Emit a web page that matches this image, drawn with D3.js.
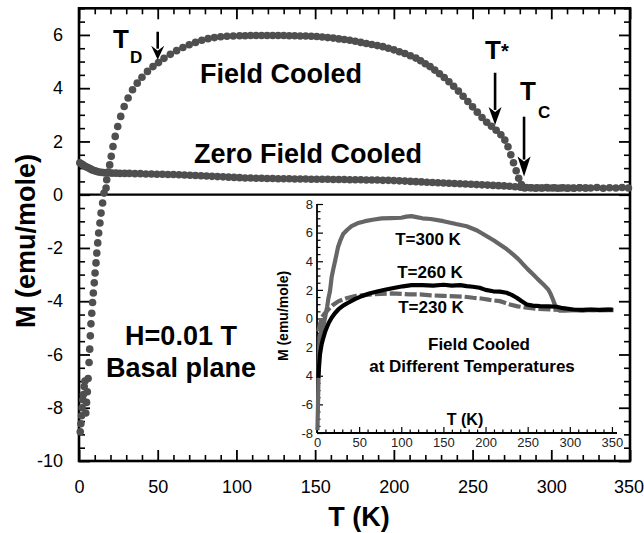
<!DOCTYPE html>
<html><head><meta charset="utf-8">
<script src="https://cdn.jsdelivr.net/npm/d3@7"></script>
<style>
html,body{margin:0;padding:0;background:#fff;}
text{font-family:"Liberation Sans",Arial,Helvetica,sans-serif;}
</style></head>
<body><svg id="c" width="644" height="533"></svg>
<script>
// ---------------- data (T in K, M in emu/mole) ----------------
const fieldCooled = [
[0.8,-8.9],[1.2,-8.6],[1.6,-8.3],[2.0,-8.0],[2.4,-7.7],[2.8,-7.5],[3.3,-7.2],[3.8,-7.0],[4.3,-8.2],[4.8,-7.8],[5.3,-7.4],[5.8,-6.9],
[6.4,-6.3],[6.8,-5.8],[7.2,-5.3],[7.6,-4.85],[8.1,-4.45],[8.6,-4.05],[9.1,-3.69],[9.7,-3.31],[10.2,-2.94],[10.8,-2.56],[11.3,-2.19],[11.9,-1.81],[12.5,-1.44],[13.3,-1.06],[14.0,-0.69],[15.0,-0.31],[15.9,0.06],[17.2,0.25],
[17.6,0.56],[18.5,0.85],[19.5,1.12],[20.5,1.44],[21.6,1.81],[23.0,2.19],[24.6,2.56],[26.5,2.94],[28.7,3.31],[31.2,3.63],[34,3.94],[37,4.19],[40,4.41],[43.5,4.63],[47,4.81],[50.5,4.96],[54,5.12],[58,5.27],[62,5.41],[66,5.53],[70,5.63],[74,5.72],[78,5.8],[82,5.86],[86,5.9],[90,5.93],[94,5.95],[98,5.96],
[102,5.97],[105.5,5.97],[109,5.98],[112.5,5.98],[116,5.98],[119.5,5.98],[123,5.98],[126.5,5.98],[130,5.98],[133.5,5.97],[137,5.97],[140.5,5.96],[144,5.96],[147.5,5.95],[151,5.94],[154.5,5.92],[158,5.9],[161.5,5.88],[165,5.85],[168.5,5.83],[172,5.8],[175.5,5.76],[179,5.72],[182.5,5.68],[186,5.64],[189.5,5.6],[193,5.56],[196.5,5.5],[200,5.44],[203.5,5.37],[207,5.3],[210.5,5.22],[214,5.13],
[217,5.03],[220,4.92],[223,4.81],[226,4.68],[229,4.54],[232,4.4],[235,4.24],[238,4.07],[241,3.89],[244,3.7],[247,3.5],[250,3.3],[253,3.1],[256,2.9],[259,2.72],[262,2.57],[265,2.42],[268,2.25],
[270.5,2.05],[272.5,1.8],[274.3,1.5],[276,1.2],[277.7,0.9],[279.3,0.62],[281,0.38],[283,0.25],
[286.5,0.26],[290,0.24],[293.5,0.25],[297,0.27],[300.5,0.25],[304,0.24],[307.5,0.26],[311,0.25],[314.5,0.24],[318,0.26],[321.5,0.25],[325,0.25],[329,0.27],[333,0.24],[337,0.26],[341,0.25],[345,0.27],[349,0.25]
];
const zeroFieldCooled = [
[0.5,1.2],[1.5,1.16],[2.5,1.12],[3.5,1.08],[4.5,1.05],[5.5,1.02],[6.5,0.99],[7.5,0.96],[8.5,0.93],[9.5,0.91],[10.5,0.89],[11.5,0.87],[12.5,0.85],[14,0.84],[15.5,0.83],[17,0.82],[19,0.82],[21,0.81],[23.5,0.81],[26,0.8],[29,0.8],[32,0.8],
[35.5,0.79],[39,0.79],[42.5,0.78],[46,0.78],[49.5,0.77],[53,0.77],[56.5,0.76],[60,0.76],[63.5,0.75],[67,0.74],[70.5,0.73],[74,0.72],[77.5,0.71],[81,0.7],[84.5,0.69],[88,0.68],[91.5,0.67],[95,0.66],[98.5,0.65],[102,0.64],[105.5,0.63],[109,0.63],[112.5,0.62],[116,0.62],[119.5,0.61],[123,0.61],[126.5,0.6],[130,0.6],[133.5,0.6],[137,0.59],[140.5,0.59],[144,0.59],[147.5,0.58],[151,0.58],[154.5,0.58],[158,0.58],[161.5,0.57],[165,0.57],[168.5,0.57],[172,0.56],[175.5,0.56],[179,0.56],[182.5,0.55],[186,0.55],[189.5,0.55],[193,0.54],[196.5,0.54],[200,0.53],
[203.5,0.52],[207,0.51],[210.5,0.5],[214,0.49],[217.5,0.48],[221,0.47],[224.5,0.46],[228,0.45],[231.5,0.44],[235,0.43],[238.5,0.42],[242,0.41],[245.5,0.4],[249,0.39],[252.5,0.38],[256,0.37],[259.5,0.36],[263,0.35],[266.5,0.34],[270,0.33],[273.5,0.32],[277,0.3],[280.5,0.28],[284,0.27],[287.5,0.26],[291,0.26],[294.5,0.25],[298,0.25],[302,0.26],[306,0.25],[310,0.24],[314,0.25],[318,0.26],[322,0.25]
];
// inset: field cooled at different temperatures
const fc300 = [[0.5,-7.8],[1,-6.5],[1.5,-5],[2,-3.5],[2.5,-2.2],[3,-1.3],[5,-0.9],[8,-0.4],[10,0.2],[12,0.8],[13.5,1.4],[15.4,1.9],[17.4,2.9],[19.5,3.5],[21.4,4.0],[25,5.0],[28,5.5],[31,5.9],[36,6.2],[41,6.45],[48,6.65],[57,6.8],[66,6.9],[76.7,7.0],[88,7.02],[100,7.04],[106,7.12],[112,7.15],[118,7.08],[125,7.0],[135,6.95],[150,6.8],[165,6.6],[177.6,6.45],[190,6.15],[201,5.76],[210,5.45],[217,5.17],[225,4.85],[232.6,4.48],[239,4.15],[244.7,3.78],[250,3.45],[256.6,3.08],[262,2.75],[266.5,2.5],[270,2.3],[274.4,2.03],[277,1.75],[280,1.33],[282,1.0],[284,0.75],[288,0.55],[295,0.55],[305,0.6],[315,0.55],[325,0.6],[335,0.58],[345,0.6],[352,0.58]];
const fc260 = [[1.6,-4.15],[2.5,-3.3],[3.5,-2.5],[5.5,-1.8],[7.5,-1.35],[9.5,-0.95],[11.5,-0.65],[14,-0.3],[17.4,0.05],[21,0.35],[25.3,0.63],[31,0.9],[37,1.1],[45,1.35],[53,1.56],[62,1.75],[72.7,1.9],[82,2.03],[92.5,2.15],[102,2.25],[112,2.33],[125,2.33],[138,2.3],[150,2.36],[160,2.3],[170,2.33],[177.6,2.26],[185,2.22],[193,2.15],[200,2.0],[209,1.9],[217,1.88],[225,1.8],[231,1.65],[237,1.45],[243,1.2],[249,0.98],[256,0.9],[264.5,0.86],[275,0.85],[284.3,0.82],[292,0.72],[304,0.63],[315,0.6],[325,0.63],[335,0.6],[345,0.62],[351,0.62]];
const fc230 = [[1.6,-0.9],[3,-0.5],[5.5,0.05],[9,0.35],[13.4,0.63],[19,0.95],[25.3,1.2],[35,1.42],[45,1.56],[55,1.63],[65,1.68],[76,1.72],[88.6,1.75],[100,1.72],[110,1.68],[122,1.68],[135,1.62],[150,1.58],[165,1.55],[175,1.52],[185.4,1.45],[195,1.4],[205,1.3],[217,1.21],[223,1.1],[229,0.98],[238,0.85],[249,0.75],[262,0.68],[276,0.63],[290,0.6],[305,0.58],[320,0.6],[335,0.58],[350,0.6]];

const xTicks = [0,50,100,150,200,250,300,350];
const yTicks = [-10,-8,-6,-4,-2,0,2,4,6];
const insetXTicks = [0,50,100,150,200,250,300,350];
const insetYTicks = [-8,-6,-4,-2,0,2,4,6,8];
const insetYTickLabels = ["-8","-6","4","2","0","2","4","6","8"];
// annotation arrows: [T, M top, M tip]
const arrowTD = [50, 6.12, 5.07];
const arrowTstar = [264.3, 4.58, 2.62];
const arrowTC = [282.7, 2.93, 0.68];

// ---------------- drawing ----------------
const svg = d3.select("#c");
const FONT = '"Liberation Sans",Arial,Helvetica,sans-serif';
const x = d3.scaleLinear().domain([0,350]).range([79,630]);
const y = d3.scaleLinear().domain([-10,7]).range([461,8.3]);
const x0=x.range()[0], x1=x.range()[1], yb=y.range()[0], yt=y.range()[1];

function minorOf(lo,hi,step,majors){
  return d3.range(lo,hi+1e-9,step).map(v=>+v.toFixed(4)).filter(v=>!majors.some(m=>Math.abs(m-v)<1e-6));
}
const xMinor = minorOf(0,350,10,xTicks);
const yMinor = minorOf(-10,7,0.5,yTicks);
const plain = d=>String(d);

function styleAxis(g,size,sw){
  g.select(".domain").remove();
  g.selectAll(".tick line").attr("stroke","#000").attr("stroke-width",sw);
  g.selectAll(".tick text").attr("font-family",FONT).attr("font-size",size).attr("fill","#000");
}
// main axes
svg.append("g").attr("transform",`translate(${x0},0)`)
  .call(d3.axisLeft(y).tickValues(yTicks).tickSize(-11).tickPadding(16).tickFormat(plain))
  .call(g=>styleAxis(g,18,1.8));
svg.append("g").attr("transform",`translate(${x0},0)`)
  .call(d3.axisLeft(y).tickValues(yMinor).tickSize(-6).tickFormat(""))
  .call(g=>styleAxis(g,18,1.6));
svg.append("g").attr("transform",`translate(${x1},0)`)
  .call(d3.axisRight(y).tickValues(yTicks).tickSize(-11).tickFormat(""))
  .call(g=>styleAxis(g,18,1.8));
svg.append("g").attr("transform",`translate(${x1},0)`)
  .call(d3.axisRight(y).tickValues(yMinor).tickSize(-6).tickFormat(""))
  .call(g=>styleAxis(g,18,1.6));
svg.append("g").attr("transform",`translate(0,${yb})`)
  .call(d3.axisBottom(x).tickValues(xTicks).tickSize(-11).tickPadding(19).tickFormat(plain))
  .call(g=>styleAxis(g,18,1.8))
  .call(g=>g.selectAll(".tick text").filter(d=>d===350).attr("dx",-1.5));
svg.append("g").attr("transform",`translate(0,${yb})`)
  .call(d3.axisBottom(x).tickValues(xMinor).tickSize(-6).tickFormat(""))
  .call(g=>styleAxis(g,18,1.6));
svg.append("g").attr("transform",`translate(0,${yt})`)
  .call(d3.axisTop(x).tickValues(xTicks).tickSize(-11).tickFormat(""))
  .call(g=>styleAxis(g,18,1.8));
svg.append("g").attr("transform",`translate(0,${yt})`)
  .call(d3.axisTop(x).tickValues(xMinor).tickSize(-6).tickFormat(""))
  .call(g=>styleAxis(g,18,1.6));

// frame and zero line
svg.append("rect").attr("x",x0).attr("y",yt).attr("width",x1-x0).attr("height",yb-yt)
  .attr("fill","none").attr("stroke","#000").attr("stroke-width",2.6);
svg.append("line").attr("x1",x0).attr("x2",x1).attr("y1",y(0)).attr("y2",y(0))
  .attr("stroke","#000").attr("stroke-width",2.2);

// data dots
const dotCol="#4f4f4f", R=3.8;
svg.append("g").selectAll("circle").data(zeroFieldCooled).join("circle")
  .attr("cx",d=>x(d[0])).attr("cy",d=>y(d[1])).attr("r",R).attr("fill",dotCol);
svg.append("g").selectAll("circle").data(fieldCooled).join("circle")
  .attr("cx",d=>x(d[0])).attr("cy",d=>y(d[1])).attr("r",R).attr("fill",dotCol);

// axis titles
svg.append("text").attr("x",359).attr("y",526).attr("text-anchor","middle")
  .attr("font-size",27).attr("font-weight","bold").text("T (K)");
svg.append("text").attr("transform","translate(35,241) rotate(-90)").attr("text-anchor","middle")
  .attr("font-size",27).attr("font-weight","bold").text("M (emu/mole)");

// annotations
function bold(xp,yp,size,txt,anchor){
  return svg.append("text").attr("x",xp).attr("y",yp).attr("font-size",size)
    .attr("font-weight","bold").attr("text-anchor",anchor||"start").text(txt);
}
bold(281,83,27,"Field Cooled","middle");
bold(308,163,27,"Zero Field Cooled","middle");
bold(181,345,27,"H=0.01 T","middle");
bold(181,377,27,"Basal plane","middle");
bold(113,48,26,"T"); bold(130,63,17,"D");
bold(520,100,26,"T"); bold(538,118,17,"C");
const ts = bold(485,59,26,"T"); ts.append("tspan").attr("font-size",20).attr("dy",-1).text("*");

function arrow(a,headLen,halfW){
  const ax=x(a[0]), ya=y(a[1]), yTip=y(a[2]);
  svg.append("line").attr("x1",ax).attr("x2",ax).attr("y1",ya).attr("y2",yTip-headLen+3)
    .attr("stroke","#000").attr("stroke-width",2.6);
  svg.append("path").attr("d",`M${ax},${yTip} L${ax-halfW},${yTip-headLen} L${ax},${yTip-headLen+5} L${ax+halfW},${yTip-headLen} Z`)
    .attr("fill","#000");
}
arrow(arrowTD,14,6.5);
arrow(arrowTstar,18,6.5);
arrow(arrowTC,20,6.5);

// ---------------- inset ----------------
const xi = d3.scaleLinear().domain([0,356]).range([317,617]);
const yi = d3.scaleLinear().domain([-8,8]).range([433,204]);
const xiMinor = minorOf(0,350,10,insetXTicks);
const yiMinor = minorOf(-8,8,0.5,insetYTicks);
const ig = svg.append("g");
function styleInset(g){
  g.select(".domain").remove();
  g.selectAll(".tick line").attr("stroke","#000").attr("stroke-width",1.2);
  g.selectAll(".tick text").attr("font-family",FONT).attr("font-size",13).attr("fill","#222");
}
ig.append("g").attr("transform",`translate(${xi(0)},0)`)
  .call(d3.axisLeft(yi).tickValues(insetYTicks).tickSize(-6).tickPadding(4).tickFormat((d,i)=>insetYTickLabels[i]))
  .call(styleInset);
ig.append("g").attr("transform",`translate(${xi(0)},0)`)
  .call(d3.axisLeft(yi).tickValues(yiMinor).tickSize(-3.5).tickFormat(""))
  .call(styleInset);
ig.append("g").attr("transform",`translate(0,${yi(-8)})`)
  .call(d3.axisBottom(xi).tickValues(insetXTicks).tickSize(-6).tickPadding(5).tickFormat(plain))
  .call(styleInset);
ig.append("g").attr("transform",`translate(0,${yi(-8)})`)
  .call(d3.axisBottom(xi).tickValues(xiMinor).tickSize(-3.5).tickFormat(""))
  .call(styleInset);
ig.append("line").attr("x1",xi(0)).attr("x2",xi(0)).attr("y1",yi(-8)).attr("y2",yi(8))
  .attr("stroke","#000").attr("stroke-width",1.8);
ig.append("line").attr("x1",xi(0)).attr("x2",xi(356)).attr("y1",yi(-8)).attr("y2",yi(-8))
  .attr("stroke","#000").attr("stroke-width",1.8);

const lineI = d3.line().x(d=>xi(d[0])).y(d=>yi(d[1]));
ig.append("path").attr("d",lineI(fc230)).attr("fill","none").attr("stroke","#666")
  .attr("stroke-width",4.2).attr("stroke-dasharray","12,3");
ig.append("path").attr("d",lineI(fc300)).attr("fill","none").attr("stroke","#666")
  .attr("stroke-width",4.2).attr("stroke-linejoin","round");
ig.append("path").attr("d",lineI(fc260)).attr("fill","none").attr("stroke","#000")
  .attr("stroke-width",4.2).attr("stroke-linejoin","round");

bold(428,245,17,"T=300 K","middle");
bold(430,278,17,"T=260 K","middle");
bold(431,313,17,"T=230 K","middle");
bold(479,350,17,"Field Cooled","middle");
bold(472,372,17,"at Different Temperatures","middle");
bold(465,425,16,"T (K)","middle");
svg.append("text").attr("transform","translate(288,316) rotate(-90)").attr("text-anchor","middle")
  .attr("font-size",14).attr("font-weight","bold").text("M (emu/mole)");
</script></body></html>
